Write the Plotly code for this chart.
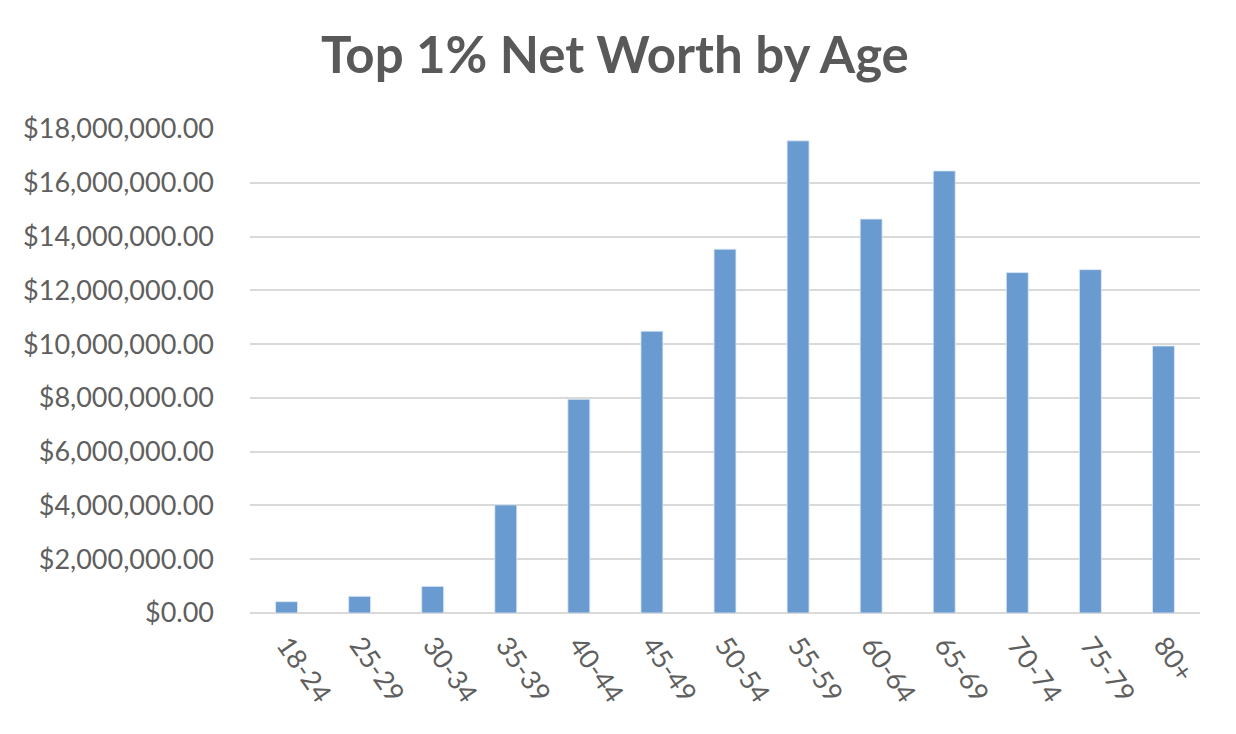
import plotly.graph_objects as go

categories = ["18-24", "25-29", "30-34", "35-39", "40-44", "45-49", "50-54",
              "55-59", "60-64", "65-69", "70-74", "75-79", "80+"]
net_worth = [420000, 620000, 990000, 4020000, 7950000, 10480000, 13530000,
             17560000, 14650000, 16440000, 12660000, 12770000, 9930000]
y_ticks = [0, 2000000, 4000000, 6000000, 8000000, 10000000, 12000000,
           14000000, 16000000, 18000000]

fig = go.Figure(go.Bar(
    x=categories, y=net_worth,
    marker=dict(color="#6a9bd0", line=dict(color="#dce8f5", width=0.8)),
))

fig.update_layout(
    width=1236, height=734,
    margin=dict(l=242, r=44, t=121, b=129),
    paper_bgcolor="white", plot_bgcolor="white",
    bargap=0.7,
    showlegend=False,
    title=dict(text="<b>Top 1% Net Worth by Age</b>", x=0.491, xanchor="center",
               y=0.936, yanchor="middle",
               font=dict(family="Lato", size=51, color="#595959")),
    font=dict(family="Lato", color="#595959"),
)
fig.update_yaxes(range=[0, 18000000], tickvals=y_ticks, tickformat="$,.2f",
                 showgrid=True, gridcolor="#d9d9d9", gridwidth=1.5,
                 zeroline=True, zerolinecolor="#d9d9d9", zerolinewidth=1.5,
                 tickfont=dict(size=27, color="#5f5f5f"), ticks="", ticklabelstandoff=35)
fig.update_xaxes(tickangle=55, tickfont=dict(size=27, color="#5f5f5f"),
                 showline=False, ticks="", ticklabelstandoff=10)

fig.write_html("out.html")
